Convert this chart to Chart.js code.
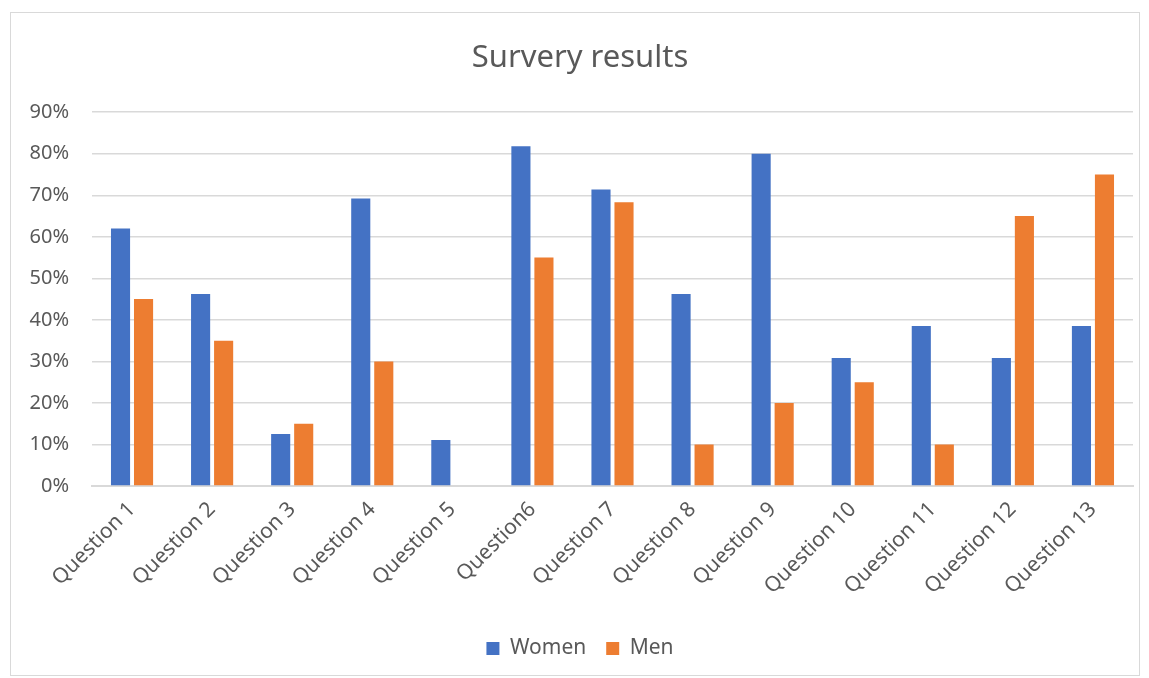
<!DOCTYPE html>
<html>
<head>
<meta charset="utf-8">
<script src="https://cdn.jsdelivr.net/npm/chart.js@4.4.0/dist/chart.umd.min.js"></script>
<style>
  body { margin: 0; background: #fff; }
  #box {
    position: absolute; left: 10px; top: 12px; width: 1128px; height: 662px;
    border: 1px solid #d9d9d9; background: #fff;
  }
</style>
</head>
<body>
<div id="box"><canvas id="myChart" width="1128" height="662"></canvas></div>
<script>
const questions = ["Question 1", "Question 2", "Question 3", "Question 4", "Question 5", "Question6",
  "Question 7", "Question 8", "Question 9", "Question 10", "Question 11", "Question 12", "Question 13"];
const women = [0.62, 0.462, 0.125, 0.692, 0.111, 0.818, 0.714, 0.462, 0.80, 0.308, 0.385, 0.308, 0.385];
const men = [0.45, 0.35, 0.15, 0.30, 0, 0.55, 0.683, 0.10, 0.20, 0.25, 0.10, 0.65, 0.75];
const yTicks = [0, 0.1, 0.2, 0.3, 0.4, 0.5, 0.6, 0.7, 0.8, 0.9];

const grey = "#595959";
const font = "'Noto Sans', sans-serif";

new Chart(document.getElementById("myChart"), {
  type: "bar",
  data: {
    labels: questions,
    datasets: [
      { label: "Women", data: women, backgroundColor: "#4472c4" },
      { label: "Men", data: men, backgroundColor: "#ed7d31" },
    ],
  },
  options: {
    responsive: false,
    animation: false,
    layout: { padding: { left: 16, right: 6, top: 0, bottom: 6 } },
    datasets: { bar: { categoryPercentage: 0.575, barPercentage: 0.83 } },
    plugins: {
      title: {
        display: true,
        text: "Survery results",
        color: grey,
        font: { family: font, size: 31, weight: "normal" },
        padding: { top: 27, bottom: 35 },
      },
      legend: {
        position: "bottom",
        labels: {
          color: grey,
          boxWidth: 13,
          boxHeight: 13,
          padding: 20,
          font: { family: font, size: 21 },
        },
      },
      tooltip: { enabled: false },
    },
    scales: {
      x: {
        grid: { display: false },
        border: { color: "#d9d9d9", width: 2 },
        afterFit: (axis) => {
          axis.height = 132;
          axis.paddingLeft = 0;
        },
        ticks: {
          color: grey,
          minRotation: 45,
          maxRotation: 45,
          font: { family: font, size: 21 },
        },
      },
      y: {
        min: 0,
        max: 0.9,
        afterBuildTicks: (axis) => { axis.ticks = yTicks.map((v) => ({ value: v })); },
        // fixed width, otherwise the rotated x labels widen it
        afterFit: (axis) => { axis.width = 65; },
        grid: { color: "#d9d9d9", lineWidth: 1.5, drawTicks: false },
        border: { display: false },
        ticks: {
          color: grey,
          padding: 23,
          font: { family: font, size: 20 },
          callback: (v) => Math.round(v * 100) + "%",
        },
      },
    },
  },
});
</script>
</body>
</html>
